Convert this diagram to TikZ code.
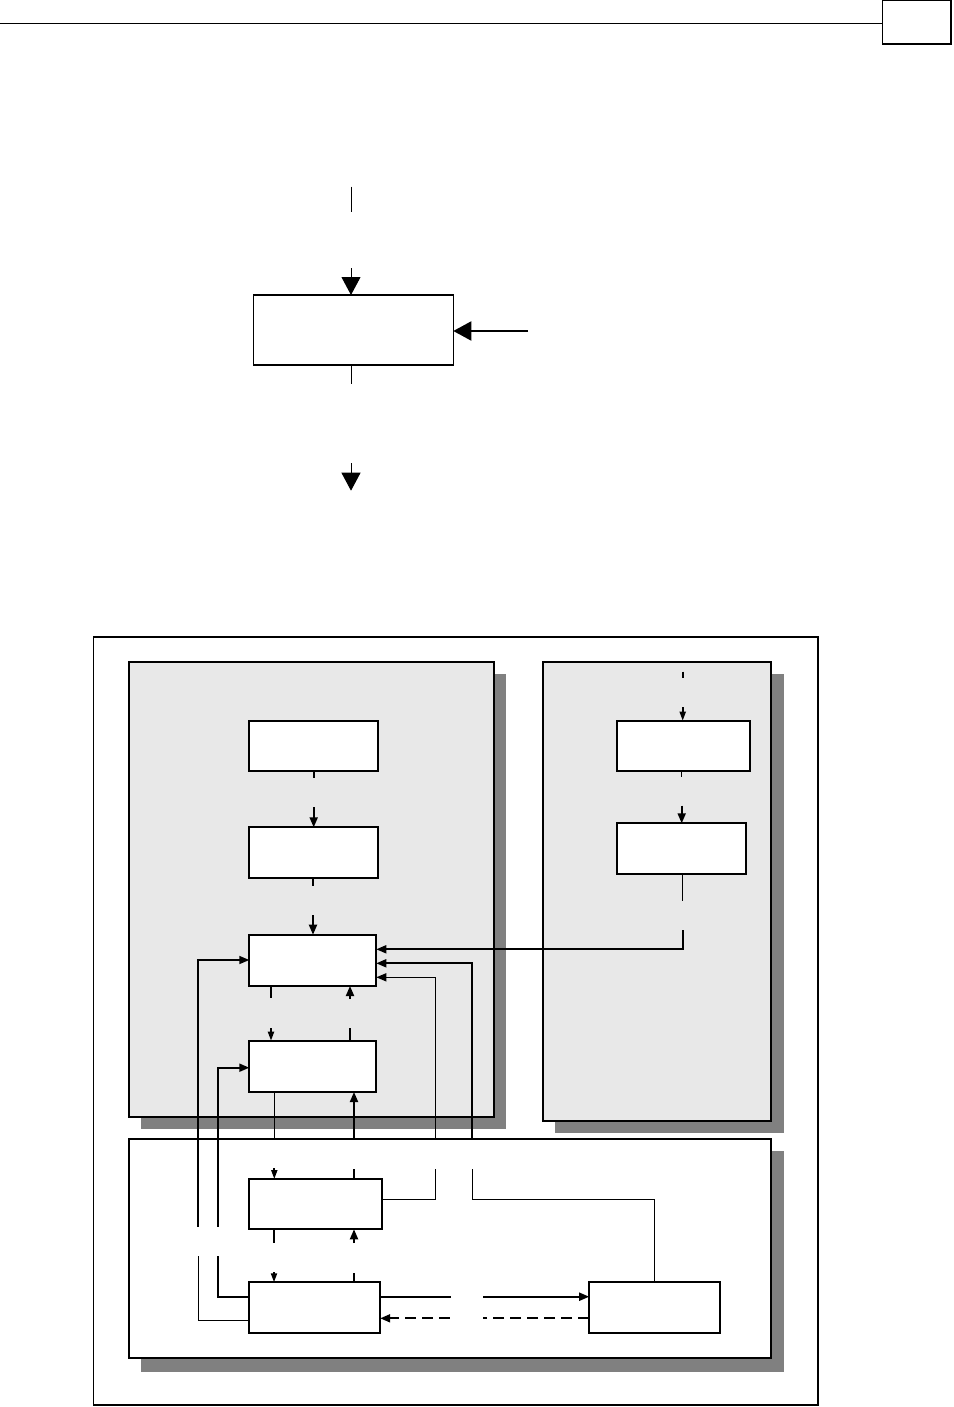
\documentclass[tikz,border=0pt]{standalone}
\usetikzlibrary{arrows.meta}
\definecolor{panelgray}{HTML}{E8E8E8}
\definecolor{shadowgray}{HTML}{808080}
\tikzset{
  x=0.5pt, y=-0.5pt,
  boxst/.style={draw, line width=1pt, fill=white, rectangle, inner sep=0pt, outer sep=0pt, anchor=north west},
  tbox/.style={draw, line width=0.7pt, fill=white, rectangle, inner sep=0pt, outer sep=0pt, anchor=north west},
  thk/.style={line width=0.95pt},
  thn/.style={line width=0.5pt},
  arr/.style={-{Triangle[length=5pt,width=4pt]}},
  arrs/.style={-{Triangle[length=4.5pt,width=3pt]}},
  bigarr/.style={-{Triangle[length=9pt,width=9.5pt]}},
  shadow/.style={fill=shadowgray, draw=none},
  panel/.style={draw, line width=1pt, fill=panelgray},
  wpanel/.style={draw, line width=1pt, fill=white},
  dash5/.style={dash pattern=on 5.5pt off 3pt}
}
\newcommand{\bx}[6]{\node[#1, minimum width=#5*0.5pt, minimum height=#6*0.5pt] (#2) at (#3,#4) {};}
\begin{document}
\begin{tikzpicture}
\useasboundingbox (0,0) rectangle (953,1407);
% header
\node[tbox, line width=0.6pt, minimum width=68.4*0.5pt, minimum height=43.5*0.5pt] (pg) at (882.6,0.6) {};
\coordinate (hl) at (0,23.3);
\draw[line width=0.6pt] (hl) -- (pg.west |- hl);

% top part
\bx{tbox}{T}{253.3}{295}{200}{70}
\coordinate (t1) at (351,186.7);
\coordinate (t2) at (351,211.7);
\coordinate (t3) at (351,268);
\coordinate (t4) at (351,384.3);
\coordinate (t5) at (351,463);
\coordinate (t6) at (351,490.7);
\coordinate (t7) at (528,331);
\draw[thn] (t1) -- (t2);
\draw[thn, bigarr] (t3) -- (T.north -| t3);
\draw[line width=1pt, bigarr] (t7) -- (T.east |- t7);
\draw[thn] (T.south -| t4) -- (t4);
\draw[thn, bigarr] (t5) -- (t6);

% outer frame
\draw[line width=0.6pt] (93.5,637) rectangle (818,1405);

% shadows
\fill[shadow] (141,673.7) rectangle (506,1129);
\fill[shadow] (554.7,673.7) rectangle (783.5,1133);
\fill[shadow] (140.7,1151.3) rectangle (783.5,1371.5);
% panels
\draw[panel] (129,661.7) rectangle (494,1116.7);
\draw[panel] (542.7,661.7) rectangle (771.3,1121);
\draw[wpanel] (128.7,1139.3) rectangle (770.5,1358.3);

% boxes
\bx{boxst}{A}{249.3}{720.7}{129}{50.3}
\bx{boxst}{B}{249.3}{827.3}{129}{50.7}
\bx{boxst}{C}{249.3}{934.7}{127}{51.3}
\bx{boxst}{D}{249.3}{1040.7}{127}{51.3}
\bx{boxst}{E1}{616.7}{720.7}{133.3}{50}
\bx{boxst}{E2}{616.7}{823.3}{129.6}{50.7}
\bx{boxst}{F}{248.8}{1179}{133.2}{50.3}
\bx{boxst}{G}{248.8}{1282.3}{131.4}{50.7}
\bx{boxst}{H}{589.2}{1282.3}{130.5}{50.7}

% A -> B -> C
\draw[thk] (A.south -| 313.7,0) -- (313.7,777.7);
\draw[thk, arr] (313.7,807.3) -- (B.north -| 313.7,0);
\draw[thk] (B.south -| 313,0) -- (313,885.7);
\draw[thk, arr] (313,915) -- (C.north -| 313,0);
% C <-> D
\draw[thk] (C.south -| 271,0) -- (271,998.3);
\draw[thk, arrs] (271,1028) -- (D.north -| 271,0);
\draw[thk] (D.north -| 350,0) -- (350,1028.3);
\draw[thk, arr] (350,999) -- (C.south -| 350,0);
% E1 -> E2 -> C
\draw[thk] (682.7,671.7) -- (682.7,678.3);
\draw[thk, arrs] (682.7,707) -- (E1.north -| 682.7,0);
\draw[thn] (E1.south -| 681.7,0) -- (681.7,776.7);
\draw[thk, arr] (681.7,805.7) -- (E2.north -| 681.7,0);
\draw[thn] (E2.south -| 682.7,0) -- (682.7,900.7);
\draw[thk, arr] (682.7,930) -- (682.7,949.3) -- (C.east |- 0,949.3);
% F -> C
\draw[thn] (F.east |- 0,1199.3) -- (435.7,1199.3) -- (435.7,1169);
\draw[line width=0.75pt, arr] (435.7,1139) -- (435.7,977.3) -- (C.east |- 0,977.3);
% H -> C
\draw[thn] (H.north -| 654.7,0) -- (654.7,1199.3) -- (472,1199.3) -- (472,1169);
\draw[thk, arr] (472,1139) -- (472,963.3) -- (C.east |- 0,963.3);
% G -> C (left)
\draw[thn] (G.west |- 0,1320) -- (198,1320) -- (198,1256);
\draw[line width=0.75pt, arr] (198,1226.7) -- (198,960) -- (C.west |- 0,960);
% G -> D (left)
\draw[thk] (G.west |- 0,1296.7) -- (217.6,1296.7) -- (217.6,1256);
\draw[thk, arr] (217.6,1226.7) -- (217.6,1067.7) -- (D.west |- 0,1067.7);
% D <-> F
\draw[thn] (D.south -| 274.3,0) -- (274.3,1139.3);
\draw[thk, arrs] (274.3,1168) -- (F.north -| 274.3,0);
\draw[thk] (F.north -| 354,0) -- (354,1169);
\draw[thk, arr] (354,1139) -- (D.south -| 354,0);
% F <-> G
\draw[thk] (F.south -| 274,0) -- (274,1243.3);
\draw[thk, arrs] (274,1272) -- (G.north -| 274,0);
\draw[thk] (G.north -| 354,0) -- (354,1273.3);
\draw[thk, arr] (354,1243) -- (F.south -| 354,0);
% G <-> H
\draw[thk] (G.east |- 0,1296.7) -- (450.9,1296.7);
\draw[thk, arr] (483,1296.7) -- (H.west |- 0,1296.7);
\draw[thk, dash5] (H.west |- 0,1318.3) -- (483.4,1318.3);
\draw[thk, dash5, arr] (449.6,1318.3) -- (G.east |- 0,1318.3);
\end{tikzpicture}
\end{document}
